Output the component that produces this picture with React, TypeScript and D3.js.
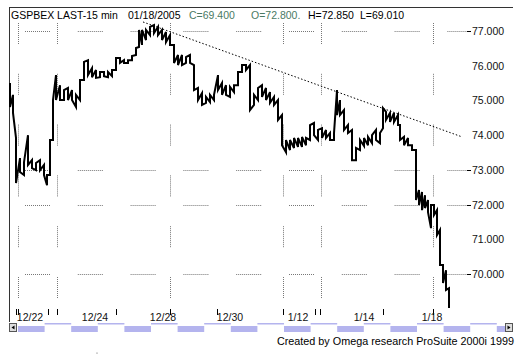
import React from "react";
import * as d3 from "d3";

const bars = [0,3,6,10,14,18,22,26,30,34,37,40,43,46,50,54,58,62,66,70,74,78,82,86,90,94,98,102,106,110,114,118,122,126,129,132,136,140,144,148,152,156,160,164,168,172,176,180,184,188,192,196,200,204,208,212,216,220,224,228,232,236,240,244,248,252,256,260,264,268,272,276,280,284,288,292,296,300,304,308,312,316,320,324,327,330,334,338,342,346,350,354,358,362,366,370,373,376,380,384,388,390,394,398,402,406,409,412,415,418,421,424,427,430,433,436,439];
const highs = [75.50,75.16,73.92,73.34,73.22,74.00,73.28,73.20,73.28,73.14,72.85,73.86,75.01,75.73,75.44,75.30,75.36,75.30,75.16,75.59,76.11,76.16,75.93,75.88,75.82,75.82,75.82,75.88,76.22,76.22,76.16,76.16,76.28,76.51,77.03,77.03,77.03,77.12,77.17,77.12,77.03,76.97,76.88,76.60,76.31,76.31,76.25,76.31,76.02,75.36,75.21,75.10,75.16,75.16,75.73,75.50,75.44,75.39,75.44,75.82,76.02,76.02,76.02,75.16,75.36,75.44,75.36,75.24,75.10,75.01,74.58,73.86,73.86,73.92,73.92,73.95,73.92,74.29,74.35,74.15,74.20,74.15,74.06,74.06,75.30,75.01,74.72,74.29,74.15,73.63,73.86,73.92,73.95,74.00,74.15,74.06,74.78,74.67,74.64,74.64,74.58,74.29,73.95,73.92,73.71,73.57,72.42,72.36,72.27,72.13,71.99,71.99,71.84,71.27,70.26,70.11,69.59];
const lows = [74.81,74.64,72.62,72.94,72.85,73.14,73.05,72.99,72.99,72.85,72.56,72.85,73.86,75.01,75.01,75.01,75.01,75.01,74.81,75.01,75.59,75.73,75.67,75.65,75.67,75.70,75.67,75.70,75.88,76.08,76.08,76.08,76.16,76.31,76.54,76.60,76.74,76.88,76.94,76.88,76.74,76.68,76.60,76.08,76.02,76.02,76.08,76.08,75.30,75.01,74.87,74.93,74.95,75.01,75.30,75.16,75.16,75.10,75.24,75.44,75.82,75.88,74.72,74.87,75.01,75.10,75.01,74.93,74.87,74.44,73.71,73.51,73.57,73.63,73.66,73.66,73.71,73.86,74.00,73.86,73.92,73.92,73.86,73.86,74.58,74.58,74.15,74.06,73.28,73.28,73.57,73.69,73.71,73.77,73.86,73.77,74.20,74.44,74.38,74.38,74.29,73.86,73.71,73.71,73.57,72.13,71.99,71.84,71.90,71.78,71.32,71.70,71.12,70.26,69.74,69.54,69.02];

const trendBars = [133, 452];
const trendPrices = [77.26, 73.95];

const yTicks = [77, 76, 75, 74, 73, 72, 71, 70];
const yGridLevels = [77, 73, 72, 70];
const xLabels = ["12/22", "12/24", "12/28", "12/30", "1/12", "1/14", "1/18"];
const xLabelBars = [20, 85, 153, 220, 288, 354, 422];
const xTickBars = [6, 8, 38, 47, 106, 160, 207, 273, 305, 310, 373, 423];
const xGridBars = [8, 47, 160, 273, 311, 423];

const FONT = "'Liberation Sans', Arial, sans-serif";

export default function App() {
  const x = d3.scaleLinear().domain([0, 441]).range([10, 451]);
  const y = d3.scaleLinear().domain([70, 77]).range([274, 31]);

  let d = "";
  bars.forEach((b, i) => {
    const mid = (highs[i] + lows[i]) / 2;
    const nextMid = i < bars.length - 1 ? (highs[i + 1] + lows[i + 1]) / 2 : mid;
    const up = nextMid > mid;
    const a = up ? lows[i] : highs[i];
    const c = up ? highs[i] : lows[i];
    d += (i === 0 ? "M" : "L") + x(b) + "," + y(a) + "L" + x(b) + "," + y(c);
  });

  const hSegStarts = d3.range(25, 460, 52.8);
  const vSegStarts = d3.range(23, 300, 50.8);
  const sbStarts = d3.range(18, 505, 26.6);

  return (
    <svg width={527} height={359} style={{ position: "absolute", left: 0, top: 0, background: "#fff" }} fontFamily={FONT}>
      <rect x={0} y={0} width={527} height={359} fill="#fff" />
      <line x1={9} x2={513} y1={7.5} y2={7.5} stroke="#333" strokeWidth={1} />
      <line x1={9.5} x2={9.5} y1={7} y2={322} stroke="#333" strokeWidth={1} />

      {yGridLevels.map((v) =>
        hSegStarts.map((s, j) => (
          <line key={"h" + v + "-" + j} x1={s} x2={Math.min(s + 25, 468)} y1={Math.round(y(v)) + 0.5} y2={Math.round(y(v)) + 0.5}
            stroke="#777" strokeWidth={1} strokeDasharray="1,1" />
        ))
      )}
      {xGridBars.map((b) =>
        vSegStarts.map((s, j) => (
          <line key={"v" + b + "-" + j} x1={Math.round(x(b)) + 0.5} x2={Math.round(x(b)) + 0.5} y1={s} y2={s + 22}
            stroke="#777" strokeWidth={1} strokeDasharray="1,1" />
        ))
      )}

      <line x1={x(trendBars[0])} y1={y(trendPrices[0])} x2={x(trendBars[1])} y2={y(trendPrices[1])}
        stroke="#000" strokeWidth={1} strokeDasharray="1.5,2" />

      <path d={d} fill="none" stroke="#000" strokeWidth={2} strokeLinejoin="miter" />

      {yTicks.map((v) => (
        <g key={"yt" + v}>
          {yGridLevels.includes(v) && (
            <line x1={467} x2={471} y1={Math.round(y(v)) + 0.5} y2={Math.round(y(v)) + 0.5} stroke="#000" />
          )}
          <text x={472} y={y(v) + 4} fontSize={10.5} fill="#111">{d3.format(".3f")(v)}</text>
        </g>
      ))}

      {xTickBars.map((b, i) => (
        <line key={"xt" + i} x1={Math.round(x(b)) + 0.5} x2={Math.round(x(b)) + 0.5} y1={309} y2={315} stroke="#000" />
      ))}
      {xLabels.map((l, i) => (
        <text key={"xl" + i} x={x(xLabelBars[i])} y={321} fontSize={10.5} textAnchor="middle" fill="#111">{l}</text>
      ))}

      {sbStarts.map((s, i) =>
        i % 2 === 0 ? (
          <rect key={"sb" + i} x={s} y={326} width={Math.min(26.6, 505 - s)} height={6} fill="#b4b4ee" />
        ) : (
          <rect key={"sb" + i} x={s} y={323} width={Math.min(26.6, 505 - s)} height={1.5} fill="#b4b4ee" />
        )
      )}
      <rect x={9.5} y={323.5} width={7} height={8} fill="#ddd" stroke="#555" />
      <path d="M11.5,327.5 L14.5,325.5 L14.5,329.5 Z" fill="#000" />
      <rect x={505.5} y={323.5} width={7} height={8} fill="#ddd" stroke="#555" />
      <path d="M510.5,327.5 L507.5,325.5 L507.5,329.5 Z" fill="#000" />

      <text y={19} fontSize={10.5}>
        <tspan x={11} fill="#000">GSPBEX LAST-15 min</tspan>
        <tspan x={128} fill="#000">01/18/2005</tspan>
        <tspan x={189} fill="#4a7a64">C=69.400</tspan>
        <tspan x={251} fill="#4a7a64">O=72.800.</tspan>
        <tspan x={308} fill="#000">H=72.850</tspan>
        <tspan x={360} fill="#000">L=69.010</tspan>
      </text>

      <text x={514} y={345} fontSize={10.8} textAnchor="end" fill="#000">Created by Omega research ProSuite 2000i 1999</text>
      <circle cx={97} cy={353} r={0.6} fill="#555" />
    </svg>
  );
}
